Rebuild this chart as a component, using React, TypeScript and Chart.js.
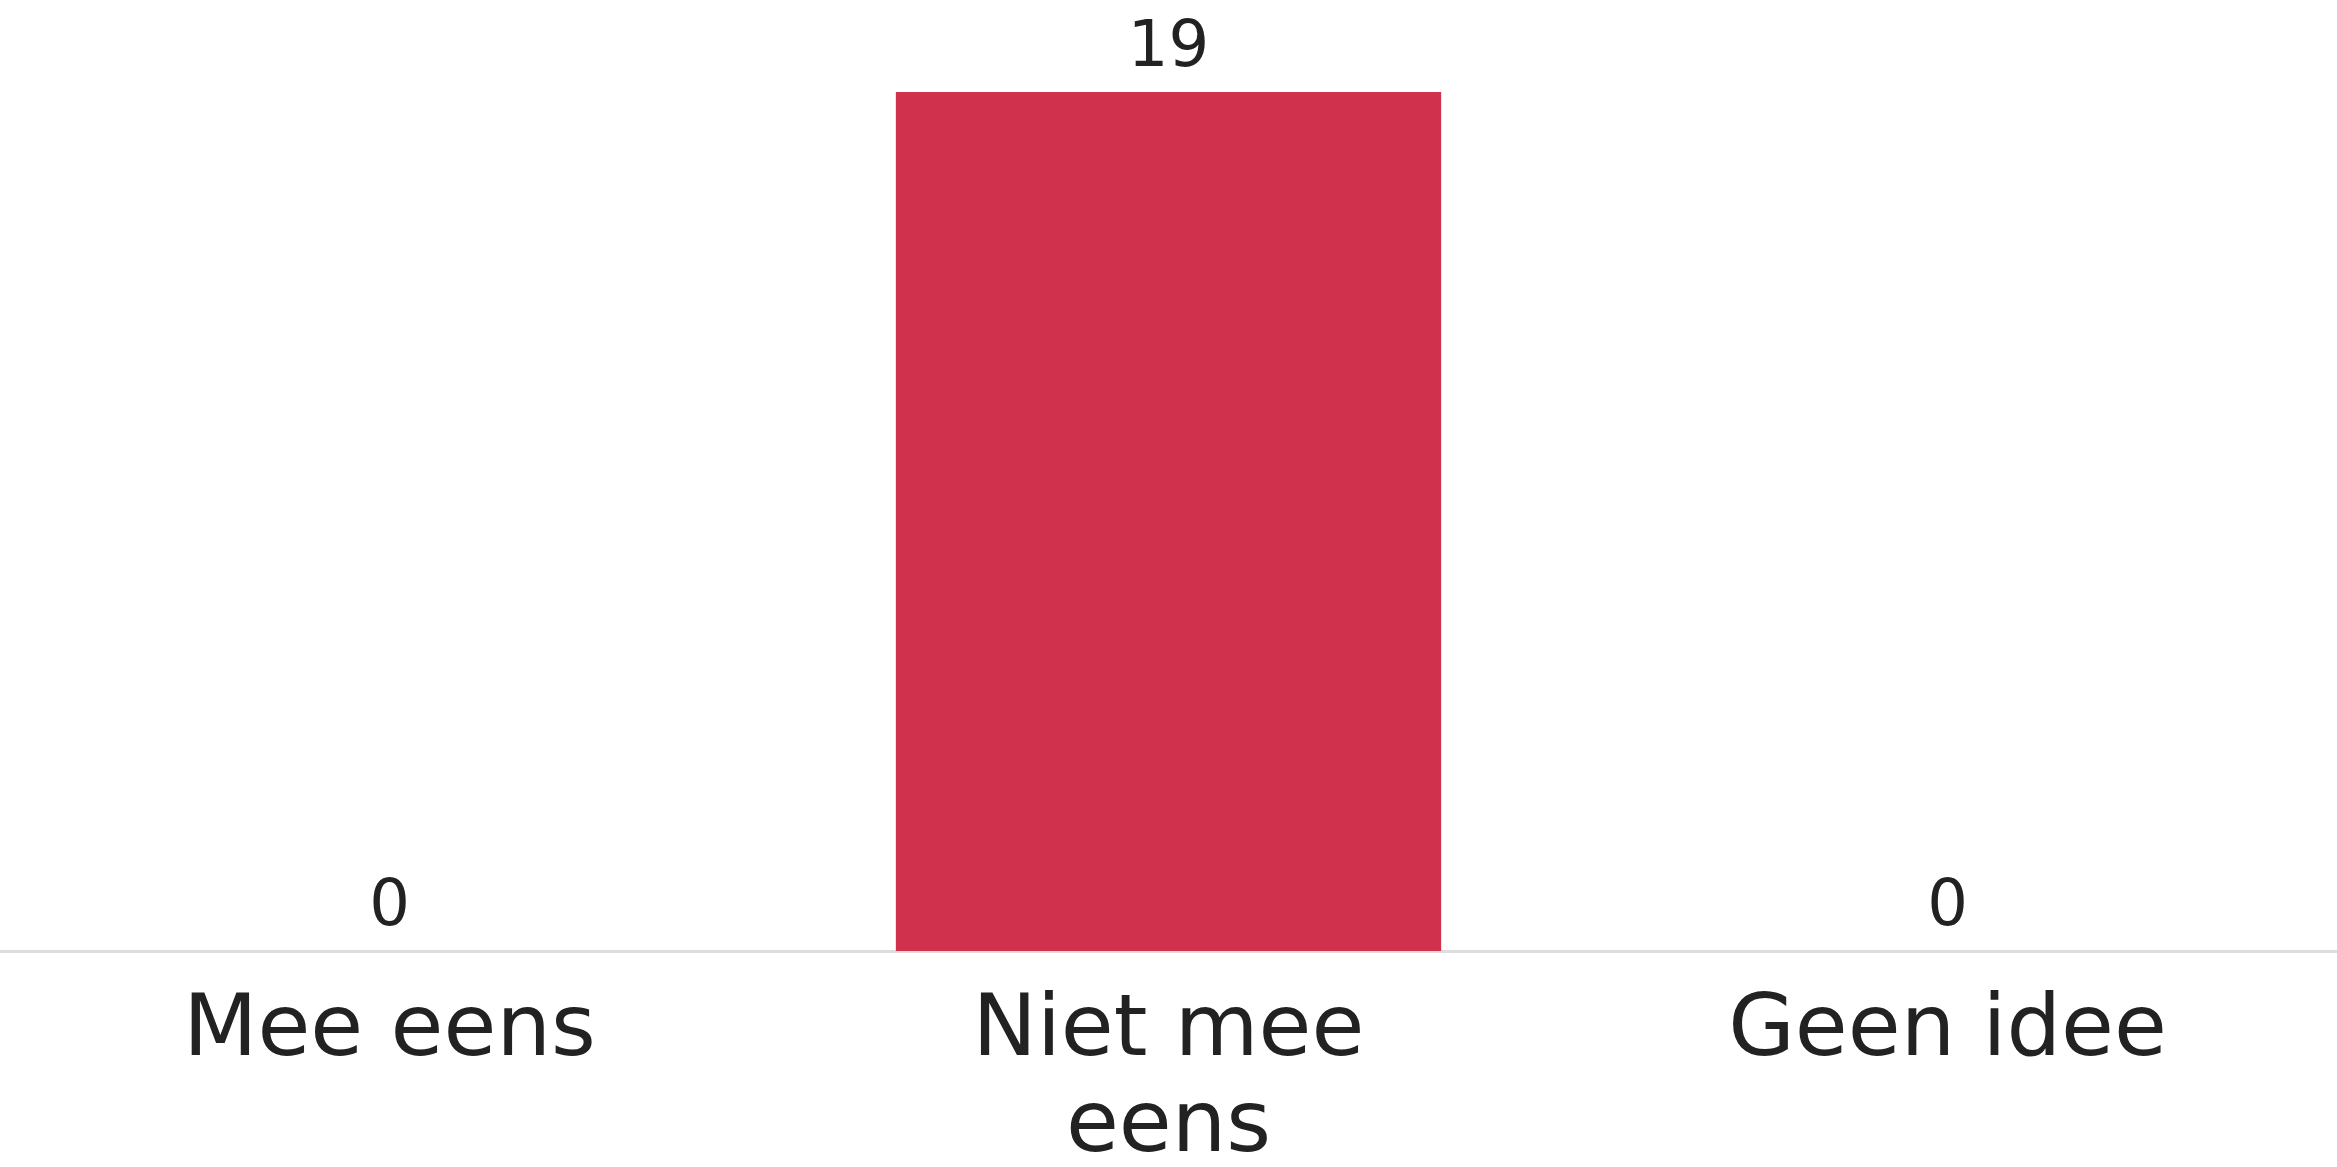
import React, { useEffect, useRef } from "react";
import { Chart, registerables } from "chart.js";

Chart.register(...registerables);

const categories: (string | string[])[] = ["Mee eens", ["Niet mee", "eens"], "Geen idee"];
const values: number[] = [0, 19, 0];
const barColor = "#D0324D";
const FONT = "'DejaVu Sans', 'Noto Sans', sans-serif";

const valueLabelPlugin = {
  id: "valueLabels",
  afterDatasetsDraw(chart: any) {
    const ctx = chart.ctx;
    const meta = chart.getDatasetMeta(0);
    ctx.save();
    ctx.font = `400 64px ${FONT}`;
    ctx.fillStyle = "#222222";
    ctx.textAlign = "center";
    ctx.textBaseline = "alphabetic";
    meta.data.forEach((el: any, i: number) => {
      ctx.fillText(String(values[i]), el.x, el.y - 26);
    });
    ctx.restore();
  },
};

export default function App() {
  const ref = useRef<HTMLCanvasElement | null>(null);
  useEffect(() => {
    document.body.style.margin = "0";
    document.body.style.background = "#ffffff";
    const c = new Chart(ref.current!, {
      type: "bar",
      data: {
        labels: categories,
        datasets: [
          {
            data: values,
            backgroundColor: barColor,
            categoryPercentage: 1,
            barPercentage: 0.7,
          },
        ],
      },
      options: {
        animation: false,
        responsive: false,
        layout: { padding: { top: 92, left: 0, right: 0, bottom: 0 } },
        plugins: { legend: { display: false }, tooltip: { enabled: false } },
        scales: {
          y: { display: false, min: 0, max: 19 },
          x: {
            grid: { display: false },
            border: { display: true, color: "#dddddd", width: 3 },
            afterFit: (scale: any) => {
              scale.height = 216;
            },
            ticks: {
              color: "#222222",
              font: { family: FONT, size: 86, lineHeight: 1.116 },
              padding: 26,
              maxRotation: 0,
              autoSkip: false,
            },
          },
        },
      },
      plugins: [valueLabelPlugin],
    });
    return () => c.destroy();
  }, []);
  return <canvas ref={ref} width={2337} height={1167} style={{ display: "block" }} />;
}
